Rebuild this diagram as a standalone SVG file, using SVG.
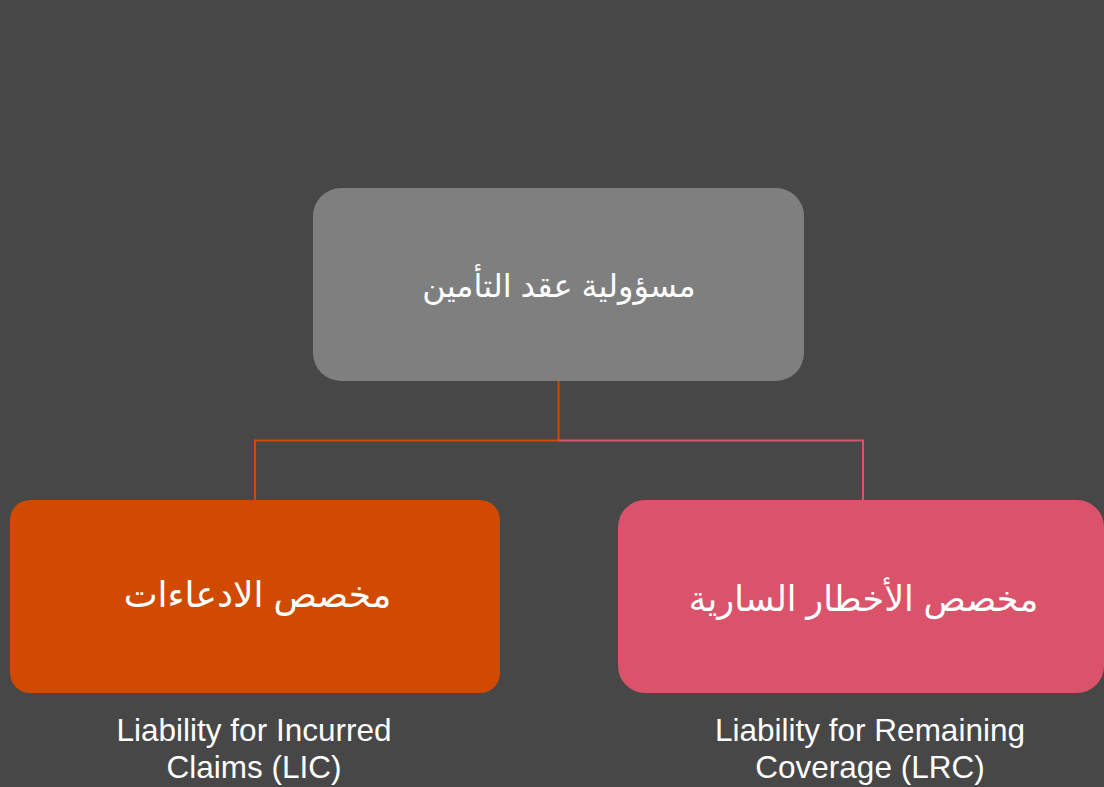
<svg xmlns="http://www.w3.org/2000/svg" width="1104" height="787" viewBox="0 0 1104 787">
  <style>
    .ar { font-family: "Liberation Sans", "DejaVu Sans", "Noto Sans", sans-serif; fill: #FFFFFF; text-anchor: middle; }
    .en { font-family: "Liberation Sans", Arial, sans-serif; font-size: 31.5px; fill: #FFFFFF; text-anchor: middle; }
    .link { fill: none; stroke-width: 2; }
  </style>
  <rect x="0" y="0" width="1104" height="787" fill="#474747"/>

  <!-- tree connectors -->
  <g id="connectors">
    <path class="link" stroke="#D04A02" d="M558.5 381 V440.5 H255 V500"/>
    <path class="link" stroke="#DB536A" d="M558.5 440.5 H863 V500"/>
  </g>

  <g id="node-root">
    <rect x="313" y="188" width="491" height="193" rx="28" fill="#7F7F7F"/>
    <text class="ar" x="559" y="297" font-size="32" direction="rtl">مسؤولية عقد التأمين</text>
  </g>

  <g id="node-lic">
    <rect x="10" y="500" width="490" height="193" rx="20" fill="#D04A02"/>
    <text class="ar" x="257.5" y="607" font-size="36" direction="rtl">مخصص الادعاءات</text>
  </g>

  <g id="node-lrc">
    <rect x="618" y="500" width="486" height="193" rx="27" fill="#DB536A"/>
    <text class="ar" x="863.5" y="611" font-size="35" direction="rtl">مخصص الأخطار السارية</text>
  </g>

  <g id="label-lic">
    <text class="en" x="254" y="741">Liability for Incurred</text>
    <text class="en" x="254" y="778">Claims (LIC)</text>
  </g>

  <g id="label-lrc">
    <text class="en" x="870" y="741">Liability for Remaining</text>
    <text class="en" x="870" y="778">Coverage (LRC)</text>
  </g>
</svg>
